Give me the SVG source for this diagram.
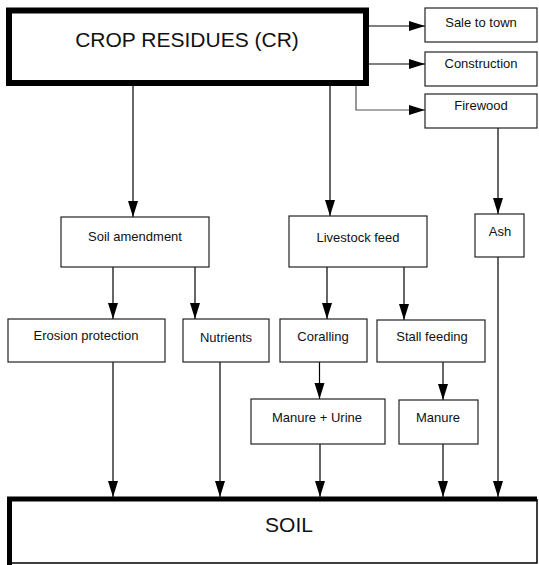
<svg xmlns="http://www.w3.org/2000/svg" width="539" height="565" viewBox="0 0 539 565">
<style>
.box{fill:#fff;stroke:#222;stroke-width:1.2}
.big{fill:#fff;stroke:#000;stroke-width:6}
.t{font-family:"Liberation Sans",Arial,sans-serif;font-size:13px;text-anchor:middle;fill:#111}
.tb{font-family:"Liberation Sans",Arial,sans-serif;font-size:21px;text-anchor:middle;fill:#111}
.c{fill:none;stroke:#000;stroke-width:1.2;marker-end:url(#ah)}
.g{stroke:#555}
</style>
<defs>
<marker id="ah" markerUnits="userSpaceOnUse" markerWidth="18" markerHeight="12" refX="16" refY="5" orient="auto">
<path d="M0,0 L16,5 L0,10 Z" fill="#000"/>
</marker>
</defs>
<rect x="0" y="0" width="539" height="565" fill="#fff"/>
<g id="connectors">
<path class="c" d="M369,26 H425"/>
<path class="c" d="M369,64 H425"/>
<path class="c g" d="M356,86 V110 H425"/>
<path class="c" d="M133,86 V217"/>
<path class="c" d="M330,86 V216"/>
<path class="c" d="M498,128 V214"/>
<path class="c" d="M113,267 V319"/>
<path class="c" d="M195,267 V319"/>
<path class="c" d="M327,267 V319"/>
<path class="c" d="M404,267 V320"/>
<path class="c" d="M319.5,362 V399"/>
<path class="c" d="M443,362 V400"/>
<path class="c" d="M113,362 V497"/>
<path class="c" d="M220,362 V497"/>
<path class="c" d="M320,444 V497"/>
<path class="c" d="M443,444 V497"/>
<path class="c" d="M498,257 V497"/>
</g>
<g id="cr">
<rect class="big" x="9" y="10.5" width="357" height="72.5"/>
<text class="tb" x="187" y="47">CROP RESIDUES (CR)</text>
</g>
<g id="sale">
<rect class="box" x="425" y="8" width="112" height="34"/>
<text class="t" x="481" y="27">Sale to town</text>
</g>
<g id="construction">
<rect class="box" x="425" y="52" width="112" height="34"/>
<text class="t" x="481" y="68">Construction</text>
</g>
<g id="firewood">
<rect class="box" x="425" y="94" width="112" height="34"/>
<text class="t" x="481" y="110">Firewood</text>
</g>
<g id="soilamend">
<rect class="box" x="61" y="217" width="148" height="50"/>
<text class="t" x="135" y="241">Soil amendment</text>
</g>
<g id="livestock">
<rect class="box" x="289" y="216" width="138" height="51"/>
<text class="t" x="358" y="242">Livestock feed</text>
</g>
<g id="ash">
<rect class="box" x="475" y="214" width="49" height="43"/>
<text class="t" x="500" y="236">Ash</text>
</g>
<g id="erosion">
<rect class="box" x="8" y="319" width="157" height="43"/>
<text class="t" x="86" y="340">Erosion protection</text>
</g>
<g id="nutrients">
<rect class="box" x="183" y="319" width="86" height="43"/>
<text class="t" x="226" y="342">Nutrients</text>
</g>
<g id="coralling">
<rect class="box" x="280" y="319" width="87" height="43"/>
<text class="t" x="323" y="341">Coralling</text>
</g>
<g id="stall">
<rect class="box" x="377" y="320" width="108" height="42"/>
<text class="t" x="432" y="341">Stall feeding</text>
</g>
<g id="manureurine">
<rect class="box" x="251" y="399" width="134" height="45"/>
<text class="t" x="317" y="422">Manure + Urine</text>
</g>
<g id="manure">
<rect class="box" x="399" y="400" width="79" height="44"/>
<text class="t" x="438" y="422">Manure</text>
</g>
<g id="soil">
<rect x="9.5" y="499" width="527.5" height="64" fill="#fff"/>
<path d="M537,499 V563 H9.5" fill="none" stroke="#000" stroke-width="1.5"/>
<path d="M9.5,565 V499 H537" fill="none" stroke="#000" stroke-width="5"/>
<text class="tb" x="289" y="532">SOIL</text>
</g>
</svg>
